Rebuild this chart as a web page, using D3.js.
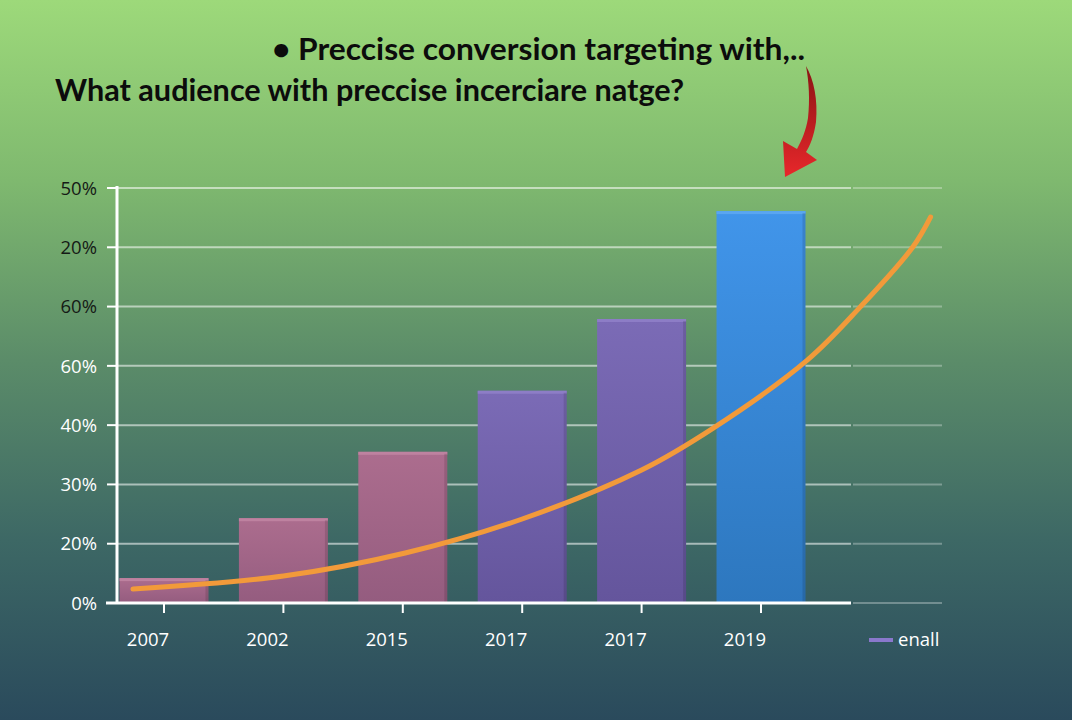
<!DOCTYPE html>
<html><head><meta charset="utf-8">
<script src="https://cdn.jsdelivr.net/npm/d3@7"></script>
<style>html,body{margin:0;padding:0;overflow:hidden;background:#2a4a5c}</style>
</head><body>
<svg id="chart" width="1072" height="720"></svg>
<script>
// ---- data ----
const categories = ["2007", "2002", "2015", "2017", "2017", "2019"];
const barValues = [4.2, 14.3, 25.5, 35.8, 47.9, 66.1];
const yTickValues = [0, 10, 20, 30, 40, 50, 60, 70];
const yTickLabels = ["0%", "20%", "30%", "40%", "60%", "60%", "20%", "50%"];
const curveIndex = [-0.26, 1.0, 2.02, 3.0, 4.0, 4.6, 5.39, 5.83, 6.27, 6.42];
const curveValues = [2.36, 4.55, 8.43, 14.17, 22.43, 29.5, 41.0, 49.9, 60.0, 65.1];
const legendLabel = "enall";
const title1 = "• Preccise conversion targeting with,..";
const title2 = "What audience with preccise incerciare natge?";

const svg = d3.select("#chart");
const defs = svg.append("defs");

// background gradient
const bg = defs.append("linearGradient").attr("id","bg").attr("x1",0).attr("y1",0).attr("x2",0).attr("y2",1);
[[0,"#9dd97a"],[0.25,"#7fb96f"],[0.5,"#5b8c69"],[0.75,"#3d6865"],[1,"#2a4a5c"]]
  .forEach(([o,c])=>bg.append("stop").attr("offset",o).attr("stop-color",c));
svg.append("rect").attr("width",1072).attr("height",720).attr("fill","url(#bg)");

function grad(id, top, bottom){
  const g = defs.append("linearGradient").attr("id",id).attr("x1",0).attr("y1",0).attr("x2",0).attr("y2",1);
  g.append("stop").attr("offset",0).attr("stop-color",top);
  g.append("stop").attr("offset",1).attr("stop-color",bottom);
}
grad("gPink","#ac6d8e","#945c7f");
grad("gPurple","#7b6bb6","#64559c");
grad("gBlue","#4195ea","#2d77be");
const arrowG = defs.append("linearGradient").attr("id","gArrow").attr("x1",0).attr("y1",0).attr("x2",0).attr("y2",1);
arrowG.append("stop").attr("offset",0).attr("stop-color","#8a1414");
arrowG.append("stop").attr("offset",1).attr("stop-color","#e8272b");

// scales
const x = d3.scaleBand().domain(d3.range(categories.length)).range([104.3, 820.7]).paddingInner(0.255).paddingOuter(0.1275);
const y = d3.scaleLinear().domain([0,70]).range([603,188]);
const xc = d3.scaleLinear().domain([0, categories.length-1])
  .range([x(0)+x.bandwidth()/2, x(categories.length-1)+x.bandwidth()/2]);

// gridlines
const grid = svg.append("g");
grid.selectAll("line.g1").data(yTickValues.slice(1)).join("line")
  .attr("x1",117).attr("x2",851).attr("y1",d=>y(d)).attr("y2",d=>y(d))
  .attr("stroke","rgba(255,255,255,0.55)").attr("stroke-width",2);
grid.selectAll("line.g2").data(yTickValues).join("line")
  .attr("x1",853).attr("x2",942).attr("y1",d=>y(d)).attr("y2",d=>y(d))
  .attr("stroke","rgba(255,255,255,0.3)").attr("stroke-width",2);

// bars
const fillFor = i => i < 3 ? "url(#gPink)" : (i < 5 ? "url(#gPurple)" : "url(#gBlue)");
const topFor = i => i < 3 ? "#be82a0" : (i < 5 ? "#8d7dc6" : "#5aa6f0");
const bars = svg.append("g");
bars.selectAll("rect.bar").data(barValues).join("rect")
  .attr("x",(d,i)=>x(i)).attr("y",d=>y(d)).attr("width",x.bandwidth()).attr("height",d=>y(0)-y(d))
  .attr("fill",(d,i)=>fillFor(i));
bars.selectAll("rect.top").data(barValues).join("rect")
  .attr("x",(d,i)=>x(i)).attr("y",d=>y(d)).attr("width",x.bandwidth()).attr("height",3)
  .attr("fill",(d,i)=>topFor(i));
bars.selectAll("rect.side").data(barValues).join("rect")
  .attr("x",(d,i)=>x(i)+x.bandwidth()-3).attr("y",d=>y(d)+2).attr("width",3).attr("height",d=>y(0)-y(d)-2)
  .attr("fill","rgba(0,0,0,0.12)");

// curve
const line = d3.line().x((d,i)=>xc(curveIndex[i])).y(d=>y(d)).curve(d3.curveCatmullRom.alpha(0.5));
svg.append("path").datum(curveValues).attr("d",line)
  .attr("fill","none").attr("stroke","#f29a3a").attr("stroke-width",5).attr("stroke-linecap","round");

// axes
const axisG = svg.append("g");
axisG.append("line").attr("x1",117).attr("x2",117).attr("y1",186).attr("y2",604).attr("stroke","#fff").attr("stroke-width",3);
axisG.append("line").attr("x1",106).attr("x2",851).attr("y1",y(0)).attr("y2",y(0)).attr("stroke","#fff").attr("stroke-width",3);
axisG.selectAll("line.yt").data(yTickValues).join("line")
  .attr("x1",107).attr("x2",117).attr("y1",d=>y(d)).attr("y2",d=>y(d)).attr("stroke","#fff").attr("stroke-width",2);
axisG.selectAll("text.yl").data(yTickValues).join("text")
  .attr("x",97).attr("y",d=>y(d)).attr("dy","0.36em").attr("text-anchor","end")
  .attr("font-family","'Open Sans', sans-serif").attr("font-size",18.5)
  .attr("fill",(d,i)=> i <= 4 ? "#ffffff" : "#151a16")
  .text((d,i)=>yTickLabels[i]);
axisG.selectAll("line.xt").data(categories).join("line")
  .attr("x1",(d,i)=>x(i)+x.bandwidth()/2).attr("x2",(d,i)=>x(i)+x.bandwidth()/2)
  .attr("y1",y(0)).attr("y2",y(0)+10).attr("stroke","#fff").attr("stroke-width",2);
axisG.selectAll("text.xl").data(categories).join("text")
  .attr("x",(d,i)=>x(i)+x.bandwidth()/2 - 16).attr("y",646).attr("text-anchor","middle")
  .attr("font-family","'Open Sans', sans-serif").attr("font-size",18.5).attr("fill","#fff")
  .text(d=>d);

// legend
svg.append("rect").attr("x",869).attr("y",638).attr("width",24).attr("height",4).attr("fill","#8a78cc");
svg.append("text").attr("x",898).attr("y",646).attr("font-family","'Open Sans', sans-serif")
  .attr("font-size",18.5).attr("fill","#fff").text(legendLabel);

// titles
svg.append("text").attr("x",272).attr("y",60).attr("textLength",533).attr("lengthAdjust","spacingAndGlyphs")
  .attr("font-family","Lato, sans-serif").attr("font-weight","bold").attr("font-size",31).attr("fill","#0c0c0c").text(title1);
svg.append("text").attr("x",55).attr("y",101).attr("textLength",629).attr("lengthAdjust","spacingAndGlyphs")
  .attr("font-family","Lato, sans-serif").attr("font-weight","bold").attr("font-size",30).attr("fill","#0c0c0c").text(title2);

// red arrow
svg.append("path")
  .attr("d","M806,66 C814,80 818,100 816,122 C814,136 810,146 806,152 L817,160 L785,177 L783,141 L797,149 C802,140 806,130 808,118 C810,100 809,82 806,66 Z")
  .attr("fill","url(#gArrow)");
</script>
</body></html>
